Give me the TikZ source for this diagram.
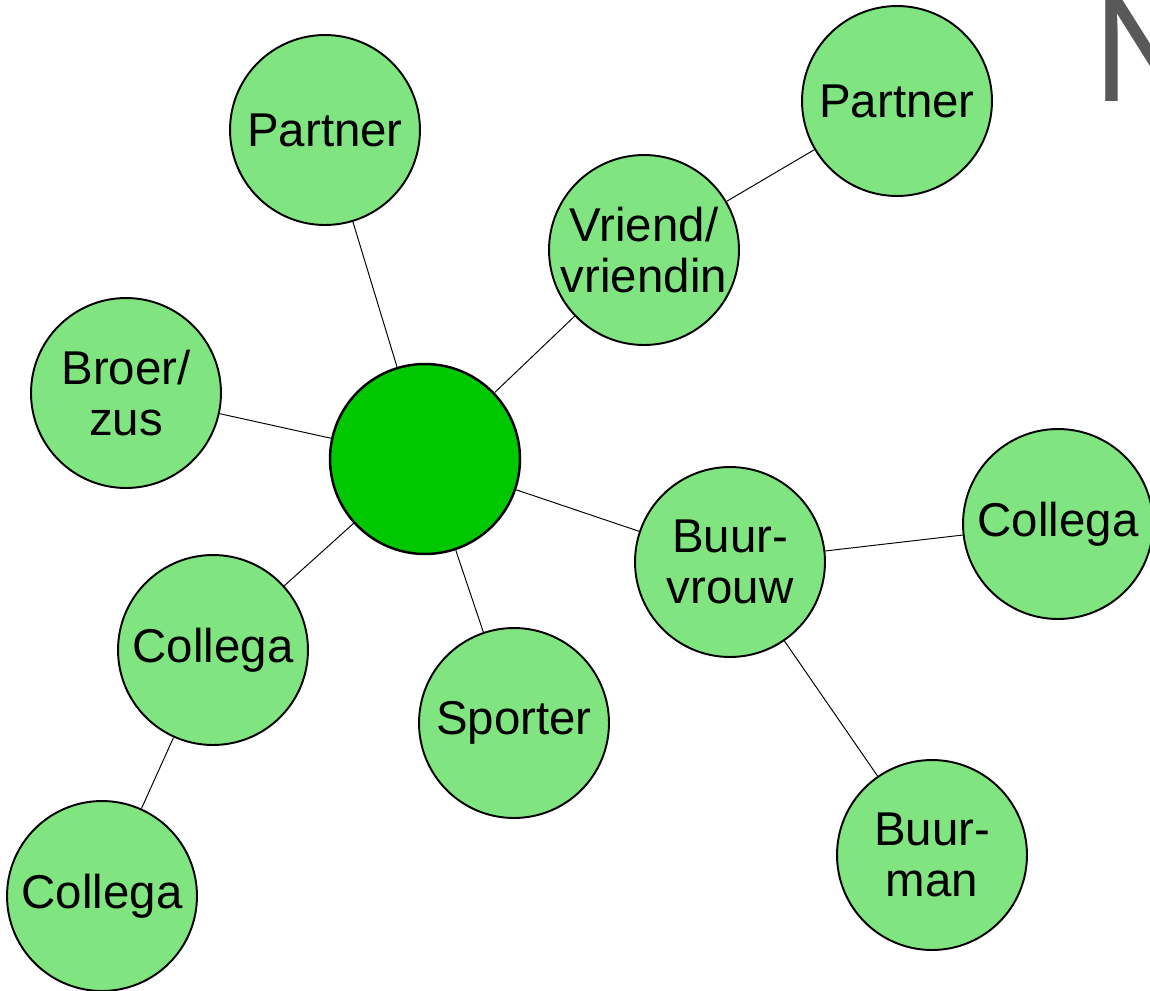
\documentclass[tikz,border=0pt]{standalone}
\usepackage{fontspec}
\setmainfont{Liberation Sans}
\usepackage{tikz}
\usetikzlibrary{arrows,positioning,shapes,calc}
\definecolor{lichtgroen}{RGB}{128,228,128}
\definecolor{middengroen}{RGB}{0,200,0}
\tikzstyle{persoon}=[circle,draw=black,line width=1.1pt,fill=lichtgroen,minimum size=3.8cm,inner sep=0pt,align=center,font=\fontsize{27}{29}\selectfont]
\tikzstyle{band}=[black,line width=0.55pt]

\begin{document}
\begin{tikzpicture}[x=0.02cm,y=-0.02cm]
      \clip (0,0) rectangle (1150,991);
      \fill[white] (0,0) rectangle (1150,991);
      \node[anchor=base west,inner sep=0pt,text=black!65,font=\fontsize{85}{90}\selectfont] at (1093,101) (titel) {N};

      \node[persoon, fill = middengroen, line width=1.4pt] at (425,459) (ik) {};
      \node[persoon] at (325,130) (partnera) {Partner};
      \node[persoon] at (644,250) (vriend) {Vriend/\\vriendin};
      \node[persoon] at (897,101) (partnerb) {Partner};
      \node[persoon] at (126,393) (broer) {Broer/\\zus};
      \node[persoon] at (730,562) (buurvrouw) {Buur-\\vrouw};
      \node[persoon] at (1058,524) (collegac) {Collega};
      \node[persoon] at (932,855) (buurman) {Buur-\\man};
      \node[persoon] at (514,723) (sporter) {Sporter};
      \node[persoon] at (213,650) (collegaa) {Collega};
      \node[persoon] at (102,896) (collegab) {Collega};

      \draw[band] (ik) -- (partnera);
      \draw[band] (ik) -- (vriend);
      \draw[band] (vriend) -- (partnerb);
      \draw[band] (ik) -- (broer);
      \draw[band] (ik) -- (buurvrouw);
      \draw[band] (buurvrouw) -- (collegac);
      \draw[band] (buurvrouw) -- (buurman);
      \draw[band] (ik) -- (sporter);
      \draw[band] (ik) -- (collegaa);
      \draw[band] (collegaa) -- (collegab);
\end{tikzpicture}
\end{document}
